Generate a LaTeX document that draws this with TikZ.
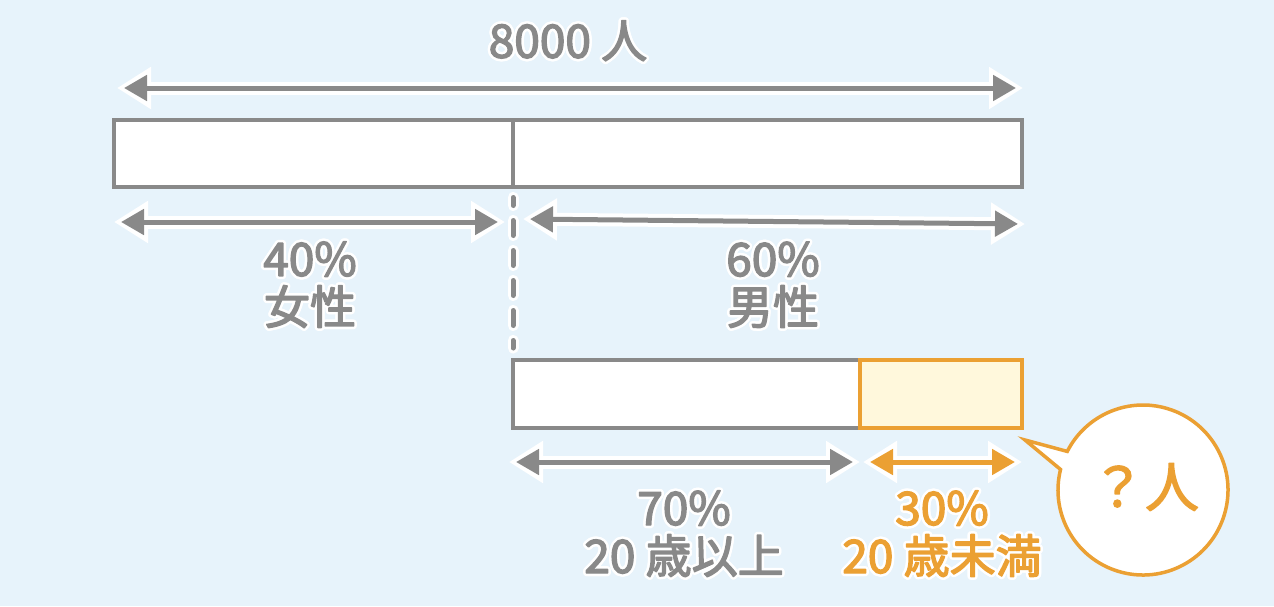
\documentclass[tikz,border=0pt]{standalone}
\usepackage{fontspec}
\setmainfont{Noto Sans CJK JP}
\usepackage{contour}
\contourlength{2.5pt}
\usetikzlibrary{arrows.meta,calc,positioning}
\definecolor{SkyBg}{HTML}{E7F3FB}
\definecolor{BarGray}{HTML}{898989}
\definecolor{Amber}{HTML}{EBA033}
\definecolor{Cream}{HTML}{FFF8DC}
\newcommand{\heavier}[1]{\special{pdf:literal direct 2 Tr 1.4 w 1 j}#1\special{pdf:literal direct 0 Tr}}
\newcommand{\halo}[1]{\contour{white}{\heavier{#1}}}

\begin{document}
\begin{tikzpicture}[x=1pt,y=-1pt,
    every node/.style={font=\fontsize{46}{48}\selectfont},
    bar/.style={draw=BarGray,line width=4pt,fill=white,minimum height=67pt,inner sep=0pt,outer sep=0pt},
    lab/.style={text=BarGray,align=center,inner sep=0pt},
    dim/.style={line width=5pt,
      {Triangle[length=23pt,width=25pt]}-{Triangle[length=23pt,width=25pt]},
      shorten <=7pt,shorten >=7pt,
      preaction={draw=white,line width=13pt,
        {Triangle[length=34pt,width=40pt]}-{Triangle[length=34pt,width=40pt]},
        shorten <=0pt,shorten >=0pt}}]
    \fill[SkyBg] (0,0) rectangle (1274,606);
    \useasboundingbox (0,0) rectangle (1274,606);

    % bars
    \node[bar,minimum width=399pt] (female) at (313.5,153.5) {};
    \node[bar,minimum width=509pt] (male) at (767.5,153.5) {};
    \node[bar,minimum width=347pt,minimum height=68pt] (adult) at (686.5,394) {};
    \node[bar,draw=Amber,fill=Cream,minimum width=162pt,minimum height=68pt] (minor) at (941,394) {};

    % dimension ends
    \coordinate (tA) at (117,88);   \coordinate (tB) at (1023,88);
    \coordinate (fA) at (114,222);  \coordinate (fB) at (505,222);
    \coordinate (mA) at (523,219);  \coordinate (mB) at (1025,224);
    \coordinate (aA) at (509,462);  \coordinate (aB) at (860,462);
    \coordinate (nA) at (863,462);  \coordinate (nB) at (1022,462);

    \draw[dim,BarGray] (tA) -- (tB);
    \draw[dim,BarGray] (fA) -- (fB);
    \draw[dim,BarGray] (mA) -- (mB);
    \draw[dim,BarGray] (aA) -- (aB);
    \draw[dim,Amber] (nA) -- (nB);

    % dashed link
    \coordinate (dTop) at (513,197.5);
    \coordinate (dBot) at (513,348);
    \draw[white,line width=11pt,line cap=round,dash pattern=on 15pt off 15pt,dash phase=7pt] (dTop) -- (dBot);
    \draw[BarGray,line width=5pt,line cap=round,dash pattern=on 15pt off 15pt,dash phase=7pt] (dTop) -- (dBot);

    % labels
    \node[lab] (total) at (568,42) {\halo{8000 人}};
    \node[lab] (labF) at (310,286) {\halo{40\%}\\\halo{女性}};
    \node[lab] (labM) at (773,286) {\halo{60\%}\\\halo{男性}};
    \node[lab] (labA) at (684,535) {\halo{70\%}\\\halo{20 歳以上}};
    \node[lab,text=Amber] (labN) at (942,535) {\halo{30\%}\\\halo{20 歳未満}};

    % bubble
    \coordinate (bubc) at (1143,490);
    \coordinate (tailtip) at (1025,440);
    \draw[draw=Amber,fill=white,line width=3.5pt]
      ($(bubc)+(207:85)$) -- (tailtip) -- ($(bubc)+(194:85)$)
      arc[start angle=194,end angle=-153,radius=85] -- cycle;
    \node[text=Amber,inner sep=0pt,font=\fontsize{54}{56}\selectfont] (ask) at (1145,487) {\heavier{？人}};
\end{tikzpicture}
\end{document}
